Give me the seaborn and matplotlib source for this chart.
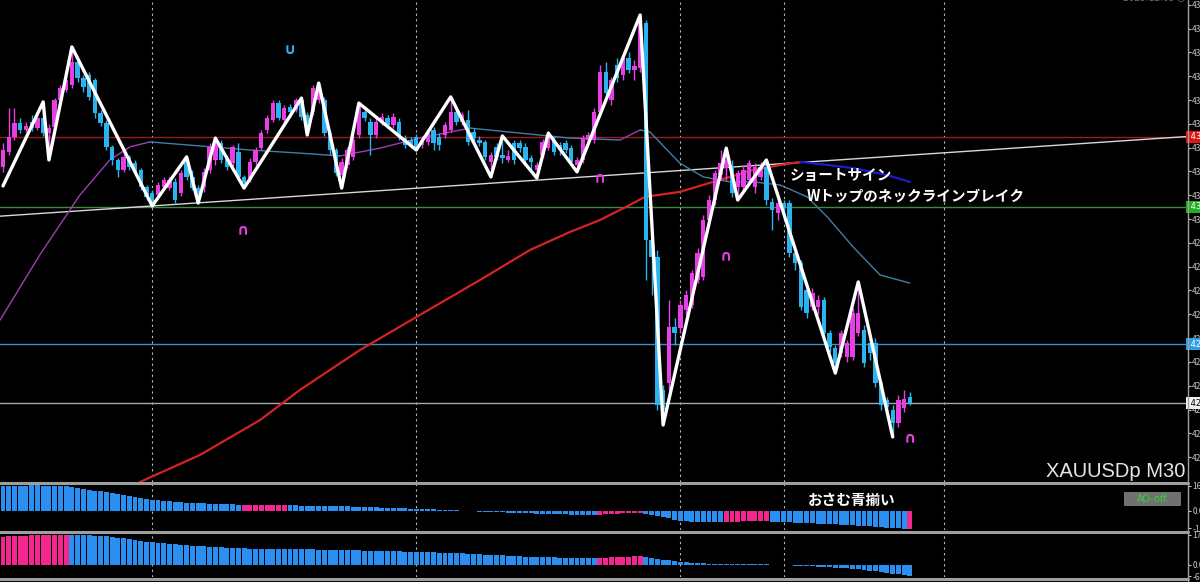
import numpy as np
import pandas as pd
import matplotlib
matplotlib.use("Agg")
import matplotlib.pyplot as plt
import matplotlib.transforms as mtransforms
from matplotlib.patches import Rectangle
from matplotlib.lines import Line2D
import seaborn as sns

# ---------------- data (XAUUSDp M30) ----------------
opens = [4321.9, 4328.2, 4334.5, 4340.3, 4337.4, 4340.8, 4338.2, 4342.4, 4336.1, 4338.7,
         4350.0, 4354.2, 4356.3, 4366.0, 4359.2, 4360.5, 4358.4, 4344.5, 4340.3, 4330.3,
         4324.8, 4320.6, 4326.1, 4323.5, 4320.6, 4313.5, 4310.9, 4310.1, 4313.5, 4313.0,
         4315.6, 4310.9, 4324.8, 4317.7, 4313.0, 4313.5, 4320.6, 4324.8, 4331.9, 4325.6,
         4323.5, 4328.2, 4317.7, 4316.4, 4324.0, 4329.8, 4337.4, 4341.6, 4348.7, 4341.6,
         4347.1, 4345.8, 4350.0, 4343.7, 4345.0, 4350.0, 4350.0, 4336.1, 4329.0, 4318.5,
         4322.7, 4326.1, 4335.3, 4345.0, 4340.8, 4335.3, 4340.8, 4342.4, 4339.5, 4340.8,
         4334.0, 4333.2, 4334.5, 4331.1, 4332.4, 4337.4, 4334.5, 4335.3, 4337.4, 4345.0,
         4340.8, 4341.6, 4336.6, 4333.2, 4332.4, 4324.0, 4330.3, 4326.9, 4324.8, 4331.9,
         4331.9, 4330.3, 4325.6, 4320.6, 4326.9, 4329.8, 4333.2, 4331.1, 4331.9, 4329.8,
         4322.7, 4324.8, 4333.2, 4333.2, 4345.0, 4361.8, 4350.0, 4364.7, 4360.5, 4367.6,
         4362.6, 4363.4, 4382.3, 4291.2, 4284.1, 4228.2, 4231.1, 4254.7, 4254.2, 4261.8,
         4263.9, 4274.4, 4275.7, 4299.6, 4308.0, 4318.5, 4321.4, 4321.9, 4313.5, 4313.5,
         4316.4, 4313.5, 4317.7, 4321.9, 4307.2, 4302.5, 4306.7, 4306.7, 4285.7, 4281.5,
         4270.2, 4263.1, 4263.1, 4266.0, 4252.1, 4245.8, 4243.7, 4242.1, 4242.1, 4252.1,
         4253.4, 4247.9, 4247.9, 4231.1, 4224.0, 4219.8, 4214.3, 4220.6, 4225.3]
closes = [4329.0, 4334.5, 4340.3, 4337.4, 4339.1, 4338.2, 4342.4, 4336.1, 4338.2, 4350.0,
          4355.0, 4358.4, 4366.0, 4359.2, 4355.5, 4351.3, 4344.5, 4340.3, 4330.3, 4324.8,
          4320.6, 4326.1, 4321.9, 4319.8, 4313.5, 4309.3, 4306.7, 4314.3, 4316.4, 4316.4,
          4308.0, 4319.3, 4317.7, 4313.0, 4310.1, 4319.8, 4330.3, 4332.4, 4324.8, 4321.9,
          4330.3, 4317.7, 4315.1, 4324.0, 4329.0, 4336.1, 4342.4, 4348.7, 4342.4, 4346.6,
          4345.0, 4350.0, 4342.9, 4340.8, 4355.0, 4356.3, 4336.1, 4329.0, 4319.3, 4324.0,
          4329.0, 4333.2, 4347.9, 4342.4, 4335.3, 4340.8, 4342.9, 4339.5, 4342.9, 4335.3,
          4331.1, 4331.1, 4329.8, 4333.2, 4336.1, 4331.9, 4331.1, 4339.5, 4345.0, 4340.8,
          4343.7, 4332.4, 4334.0, 4331.9, 4326.1, 4326.9, 4326.1, 4325.6, 4326.5, 4324.8,
          4329.8, 4324.8, 4324.0, 4322.7, 4332.4, 4334.5, 4328.2, 4329.0, 4329.0, 4324.0,
          4324.8, 4334.0, 4335.3, 4345.0, 4361.8, 4352.9, 4358.4, 4359.2, 4367.6, 4362.6,
          4364.3, 4383.6, 4291.2, 4284.1, 4221.9, 4219.8, 4254.7, 4252.1, 4263.9, 4268.1,
          4277.3, 4285.7, 4299.6, 4308.0, 4319.3, 4323.5, 4324.8, 4310.9, 4319.3, 4320.6,
          4323.5, 4321.9, 4321.9, 4308.0, 4303.8, 4306.7, 4305.1, 4285.7, 4281.5, 4263.1,
          4260.5, 4268.9, 4266.0, 4252.1, 4246.3, 4239.5, 4252.1, 4248.0, 4260.5, 4260.5,
          4239.5, 4243.7, 4231.1, 4221.9, 4221.1, 4214.3, 4224.0, 4224.3, 4222.7]
highs = [4331.9, 4346.6, 4346.6, 4342.4, 4340.8, 4343.7, 4345.0, 4349.2, 4339.9, 4350.8,
         4356.3, 4359.7, 4372.3, 4366.8, 4360.5, 4361.8, 4359.2, 4345.8, 4341.6, 4331.1,
         4325.6, 4328.2, 4326.9, 4324.8, 4321.4, 4314.3, 4312.2, 4315.6, 4317.7, 4317.7,
         4317.2, 4320.6, 4326.1, 4320.6, 4314.3, 4321.4, 4331.9, 4334.0, 4333.2, 4326.9,
         4331.1, 4331.9, 4318.5, 4325.6, 4330.3, 4337.4, 4343.7, 4350.0, 4350.0, 4347.9,
         4348.3, 4350.8, 4350.8, 4345.0, 4356.3, 4357.1, 4351.3, 4337.4, 4329.8, 4325.6,
         4330.3, 4334.9, 4348.7, 4346.6, 4342.4, 4342.4, 4344.5, 4343.7, 4344.5, 4342.4,
         4335.3, 4334.5, 4335.7, 4334.9, 4337.4, 4338.7, 4336.1, 4340.8, 4351.3, 4346.6,
         4345.0, 4345.8, 4338.2, 4334.9, 4333.2, 4328.2, 4331.9, 4334.9, 4329.0, 4333.2,
         4333.2, 4331.9, 4326.9, 4324.0, 4333.6, 4336.1, 4334.9, 4332.4, 4333.2, 4331.1,
         4326.1, 4335.3, 4336.6, 4346.6, 4364.7, 4366.0, 4359.7, 4367.6, 4368.9, 4370.2,
         4366.8, 4385.7, 4383.6, 4293.3, 4287.0, 4230.3, 4266.0, 4258.4, 4266.0, 4270.2,
         4278.6, 4287.8, 4301.7, 4310.1, 4320.6, 4329.0, 4329.8, 4324.8, 4320.6, 4322.7,
         4324.8, 4323.5, 4324.0, 4324.8, 4308.8, 4308.0, 4308.0, 4308.0, 4287.0, 4282.8,
         4272.3, 4271.0, 4268.1, 4267.3, 4253.4, 4247.1, 4253.4, 4249.2, 4262.6, 4273.6,
         4255.5, 4250.0, 4250.0, 4232.4, 4225.3, 4221.9, 4226.1, 4228.2, 4227.4]
lows = [4319.8, 4326.9, 4333.2, 4336.1, 4336.6, 4337.0, 4337.4, 4334.9, 4324.8, 4337.4,
        4348.7, 4353.4, 4355.0, 4357.6, 4353.4, 4350.0, 4342.4, 4339.1, 4329.0, 4322.7,
        4317.7, 4319.8, 4320.6, 4318.5, 4312.2, 4308.0, 4305.5, 4309.3, 4312.2, 4312.2,
        4306.7, 4309.7, 4316.4, 4312.2, 4306.7, 4311.4, 4319.3, 4322.7, 4323.5, 4320.6,
        4322.3, 4316.4, 4313.0, 4315.6, 4322.7, 4329.0, 4336.1, 4340.8, 4341.6, 4340.3,
        4343.7, 4345.0, 4341.6, 4335.3, 4343.7, 4348.7, 4334.9, 4326.9, 4318.1, 4313.0,
        4321.4, 4324.8, 4334.0, 4341.2, 4326.9, 4334.0, 4339.5, 4338.2, 4338.2, 4333.2,
        4329.8, 4329.8, 4329.0, 4329.8, 4331.1, 4329.0, 4329.0, 4334.0, 4336.6, 4339.5,
        4339.5, 4331.1, 4332.4, 4330.7, 4324.8, 4317.7, 4324.8, 4323.5, 4324.0, 4323.1,
        4328.2, 4322.7, 4320.6, 4317.2, 4325.6, 4329.0, 4326.9, 4326.9, 4327.7, 4322.7,
        4319.8, 4323.5, 4331.9, 4331.9, 4343.7, 4351.3, 4347.9, 4357.6, 4358.4, 4361.3,
        4358.4, 4361.8, 4274.4, 4268.1, 4219.8, 4213.5, 4228.2, 4247.1, 4252.1, 4259.7,
        4262.6, 4273.1, 4274.4, 4297.5, 4305.9, 4316.4, 4316.4, 4309.3, 4308.0, 4312.2,
        4314.3, 4310.9, 4316.4, 4305.9, 4295.4, 4299.6, 4301.7, 4284.1, 4278.6, 4261.8,
        4258.4, 4261.8, 4260.0, 4250.5, 4244.2, 4235.3, 4242.1, 4240.0, 4240.8, 4250.9,
        4237.9, 4240.8, 4229.5, 4219.8, 4218.9, 4208.5, 4212.7, 4218.9, 4221.9]

# zigzag pivots (bar index, price)
zz_bars = [0, 7, 8, 12, 26, 32, 34, 37, 42, 52, 53, 55, 59, 62, 72, 78, 85, 87, 93, 95,
           100, 111, 115, 126, 128, 133, 145, 149, 155]
zz_prices = [4313.9, 4349.2, 4324.8, 4372.3, 4305.5, 4326.1, 4306.7, 4334.0, 4313.0, 4350.8,
             4335.3, 4357.1, 4313.0, 4348.7, 4329.0, 4351.3, 4317.7, 4334.9, 4317.2, 4336.1,
             4319.8, 4385.7, 4213.5, 4329.8, 4308.0, 4324.8, 4235.3, 4273.6, 4208.5]

# slow moving average (red rising / blue falling)
ma_slow_bars = [23.9, 34.3, 44.8, 51.7, 62.2, 72.6, 83.1, 91.8, 98.8, 104.0, 109.2, 111.8,
                117.9, 123.7, 130.7, 135.4, 138.9, 142.3, 148.1, 154.0, 158.0]
ma_slow_prices = [4189.6, 4200.9, 4215.6, 4228.2, 4245.0, 4259.7, 4274.4, 4287.0, 4294.6,
                  4299.6, 4305.9, 4309.3, 4311.4, 4315.6, 4320.6, 4322.7, 4324.0, 4323.1,
                  4321.4, 4318.5, 4315.6]

# middle moving average (purple rising / steel blue falling)
ma_mid_bars = [-0.5, 6.4, 13.4, 18.6, 22.1, 25.6, 34.3, 43.0, 51.7, 58.7, 65.7, 72.6, 81.4,
               90.1, 98.8, 107.5, 111.0, 112.7, 117.9, 122.0, 126.7, 130.7, 135.4, 140.1,
               143.6, 148.1, 152.8, 158.0]
ma_mid_prices = [4257.6, 4284.9, 4310.1, 4324.8, 4330.3, 4332.4, 4330.7, 4329.0, 4327.7,
                 4326.5, 4329.8, 4334.0, 4338.2, 4336.1, 4334.0, 4333.2, 4337.4, 4336.6,
                 4323.5, 4317.7, 4315.6, 4315.6, 4314.3, 4309.3, 4300.9, 4288.3, 4276.5,
                 4273.1]

# horizontal levels
level_prices = [4334.5, 4305.1, 4247.5, 4222.7]
level_colors = ["#9a1c1c", "#3f8a3f", "#3a8fc4", "#a8a8a8"]
label_faces = ["#e01414", "#22b022", "#2f9fe6", "#f0f0f0"]
label_texts = ["white", "white", "white", "black"]

# neckline trend line anchors
trend_bars = [26, 128]
trend_prices = [4305.5, 4322.0]

# period separators
sep_bars = [26, 72, 118, 136, 164]

# arrow signals
arrow_bars = [50, 41.8, 104, 126, 158]
arrow_prices = [4371.0, 4295.4, 4317.2, 4284.5, 4208.0]
arrow_kind = ["buy", "sell", "sell", "sell", "sell"]

# AO panel 1
ao1 = [159.3, 162.5, 162.5, 162.5, 162.5, 163.8, 163.8, 162.5, 162.5, 162.5, 162.5, 161.2,
       152.8, 146.3, 139.8, 133.3, 128.7, 124.8, 120.3, 113.8, 107.3, 98.8, 92.3, 85.8,
       80.6, 76.7, 71.5, 67.0, 63.1, 59.8, 56.6, 53.3, 50.7, 48.8, 47.5, 46.2, 44.9, 43.6,
       42.3, 41.0, 39.7, 38.4,
       35.8, 35.8, 36.4, 36.4, 37.1, 37.1, 37.7, 37.7,
       33.8, 33.2, 32.5, 31.9, 31.2, 31.2, 30.6, 29.9, 29.3, 28.6, 28.0,
       26.0, 24.7, 23.4, 22.1, 20.8, 19.5,
       18.2, 16.9, 15.6, 14.3, 13.0, 11.7,
       9.8, 8.5, 7.2, 5.9, 4.6, 3.3, 2.0,
       -2.6, -3.9, -5.2, -6.5,
       -8.5, -9.8, -11.1, -12.4, -13.7, -15.0, -16.3, -17.6, -18.9, -19.5,
       -20.8, -22.1, -22.8, -24.1, -24.7, -26.0, -26.7, -27.3, -28.0, -28.6,
       -26.0, -23.4, -21.5, -19.5, -18.2, -16.9, -16.3, -15.6,
       -19.5, -26.0, -33.8, -42.3, -50.7, -58.5, -65.0,
       -68.3, -71.5, -71.5, -72.8, -72.8, -73.5, -73.5,
       -72.8, -72.2, -71.5, -70.9, -70.2, -70.2, -69.6, -69.6,
       -71.5, -72.8, -74.8, -76.1, -78.0, -79.3, -81.3, -83.2, -84.5, -86.5, -88.4, -90.4,
       -92.3, -94.3, -96.2, -98.8, -100.8, -103.4, -105.3, -107.9, -110.5, -113.1, -115.7,
       -118.3,
       -117.0]
ao1_pink_ranges = [(42, 49), (104, 111), (126, 133), (158, 158)]

# AO panel 2
ao2 = [161.2, 164.1, 165.8, 167.6, 169.9, 171.7, 172.9, 172.9, 172.9, 172.9, 172.9, 172.9,
       172.9, 172.9, 171.7, 170.5, 168.8, 166.4, 164.1, 160.6, 157.0,
       152.4, 147.7, 143.0, 138.3, 134.2, 130.7, 127.2, 123.6, 120.7, 117.8,
       114.9, 112.5, 110.2, 107.8, 105.5, 103.7, 102.0, 100.2, 98.4, 96.7,
       95.5, 94.3, 93.2, 92.6, 92.0, 91.4, 90.8, 90.8, 90.8, 90.2, 90.2, 89.7, 89.7,
       88.5, 87.9, 87.3, 86.7, 85.6, 85.0, 84.4, 83.2, 82.6, 82.0, 80.9, 80.3, 79.1,
       78.5, 77.4, 76.8, 75.6, 75.0, 73.8, 73.3, 72.1, 71.5, 70.3, 69.7, 68.6, 67.4,
       65.6, 63.9, 62.1, 60.4, 58.6, 56.8, 55.1, 53.3, 51.6, 49.8, 48.1, 46.3, 45.1, 44.0,
       42.8, 42.2, 41.6, 41.0, 40.4, 39.8, 39.3, 38.7, 38.1, 38.1,
       39.8, 41.0, 42.8, 44.0, 45.1, 46.3, 46.9, 46.9,
       44.0, 39.3, 34.6, 29.3, 24.6, 20.5, 17.0, 13.5, 10.5, 8.2, 6.4, 4.7, 3.5,
       2.9, 2.3, 1.8, 1.8, 1.2, 1.2, 0.6, 0.6, 0.3, 0.0, -0.6,
       -2.3, -4.1, -5.9, -7.6, -9.4, -11.1, -12.9, -14.7, -16.4,
       -18.2, -20.5, -22.9, -25.8, -28.7, -32.2, -35.7, -39.8, -44.0, -48.6, -53.3, -58.0,
       -62.1,
       -64.5]
ao2_pink_ranges = [(0, 11), (104, 111)]

# ---------------- style ----------------
BULL = "#e63fe6"
BEAR = "#2bb3ef"
PINK = "#f2268f"
BLUE = "#2a8ff0"

sns.set_theme(style="dark", rc={"axes.facecolor": "black", "figure.facecolor": "black",
                                "axes.edgecolor": "black", "grid.color": "black"})
plt.rcParams['font.family'] = ['Noto Sans CJK JP', 'DejaVu Sans']

W, H = 1200, 582
fig = plt.figure(figsize=(12, 5.82), dpi=100)
fig.patch.set_facecolor("black")


def ax_px(x0, y0, x1, y1):
    a = fig.add_axes([x0 / W, 1 - y1 / H, (x1 - x0) / W, (y1 - y0) / H])
    a.set_facecolor("black")
    for s in a.spines.values():
        s.set_visible(False)
    a.grid(False)
    return a


ax = ax_px(0, 0, 1188, 482)
ax1 = ax_px(0, 484, 1188, 530)
ax2 = ax_px(0, 533, 1188, 577)

n = len(closes)
bars = np.arange(n)
XL = (-3 / 5.74, (1188 - 3) / 5.74)

# ---- main panel ----
o = np.array(opens); c = np.array(closes)
hi = np.maximum(np.array(highs), np.maximum(o, c))
lo = np.minimum(np.array(lows), np.minimum(o, c))
up = c >= o
cols = np.where(up, BULL, BEAR)

for x in sep_bars:
    for a in (ax, ax1, ax2):
        a.axvline(x, color="#bdbdbd", lw=0.8, ls=(0, (2, 3)), zorder=1)

for p, col in zip(level_prices, level_colors):
    ax.axhline(p, color=col, lw=1.0, zorder=1)

ax.axline((trend_bars[0], trend_prices[0]), (trend_bars[1], trend_prices[1]),
          color="#d8d8d8", lw=1.0, zorder=2)


def draw_ma(bx, py, c_up, c_dn, lw):
    bx = list(bx); py = list(py)
    runs = []
    cur = [0]
    cur_up = py[1] > py[0]
    for i in range(1, len(bx)):
        seg_up = py[i] > py[i - 1]
        if seg_up != cur_up:
            runs.append((cur, cur_up))
            cur = [i - 1]
            cur_up = seg_up
        cur.append(i)
    runs.append((cur, cur_up))
    for idx, is_up in runs:
        sns.lineplot(x=[bx[k] for k in idx], y=[py[k] for k in idx], ax=ax,
                     color=c_up if is_up else c_dn, lw=lw, sort=False,
                     estimator=None, zorder=3)


draw_ma(ma_mid_bars, ma_mid_prices, "#a23cb4", "#3f7fa6", 1.0)
draw_ma(ma_slow_bars, ma_slow_prices, "#d62222", "#1c1cc8", 1.6)

ax.vlines(bars, lo, hi, colors=cols, lw=1.0, zorder=4)
body = np.maximum(np.abs(c - o), 0.35)
ax.bar(bars, body, bottom=np.minimum(o, c), width=0.76, color=cols, linewidth=0, zorder=5)

sns.lineplot(x=zz_bars, y=zz_prices, ax=ax, color="white", lw=2.4, sort=False,
             estimator=None, zorder=6)

for bx, py, k in zip(arrow_bars, arrow_prices, arrow_kind):
    ax.text(bx, py, "∪" if k == "buy" else "∩", color=BEAR if k == "buy" else BULL,
            fontsize=11, fontweight="bold", ha="center", va="center",
            family="DejaVu Sans", zorder=7)

ax.text(137.1, 4318.5, "ショートサイン", color="white", fontsize=10.5,
        fontweight="bold", ha="left", va="center", zorder=8)
ax.text(140.1, 4309.7, "Wトップのネックラインブレイク", color="white", fontsize=10.5,
        fontweight="bold", ha="left", va="center", zorder=8)
ax.text(1185 / 1188, 5 / 482, "XAUUSDp M30", transform=ax.transAxes, ha="right",
        va="baseline", fontsize=14.5, color="#e6e6e6", family="Liberation Sans")

ax.set_xlim(*XL)
ax.set_ylim(4189.56, 4392.0)
main_ticks = np.arange(4200, 4391, 10)
ax.set_yticks(main_ticks)
ax.set_yticklabels([f"{v:.2f}" for v in main_ticks])
ax.set_xticks([])
ax.yaxis.tick_right()
ax.tick_params(axis="y", colors="#c8c8c8", labelsize=6, length=2, width=0.8, pad=1,
               direction="out", right=True, left=False)
ax.set_xlabel(""); ax.set_ylabel("")

blend = mtransforms.blended_transform_factory(ax.transAxes, ax.transData)
for p, fc, tc in zip(level_prices, label_faces, label_texts):
    ax.text(1.0, p, f" {p:.2f}", transform=blend, ha="left", va="center", fontsize=6,
            color=tc, family="DejaVu Sans", clip_on=False, zorder=10,
            bbox=dict(boxstyle="square,pad=0.2", fc=fc, ec="none"))

# ---- AO panels ----


def states(ranges, count):
    s = ["down"] * count
    for a, b in ranges:
        for i in range(a, b + 1):
            s[i] = "up"
    return s


for a, vals, rng, ylim, ticks, tlabels in [
        (ax1, ao1, ao1_pink_ranges, (-126.75, 172.25), [162.5, 0.0, -115.0],
         ["162.53", "0.00", "-115.04"]),
        (ax2, ao2, ao2_pink_ranges, (-73.25, 184.6), [173.0, 0.0, -68.0],
         ["173.12", "0.00", "-68.45"])]:
    df = pd.DataFrame({"bar": bars, "ao": vals, "state": states(rng, n)})
    sns.barplot(data=df, x="bar", y="ao", hue="state", palette={"up": PINK, "down": BLUE},
                native_scale=True, dodge=False, width=0.86, legend=False, ax=a,
                saturation=1, errorbar=None, linewidth=0)
    a.set_xlim(*XL)
    a.set_ylim(*ylim)
    a.set_yticks(ticks)
    a.set_yticklabels(tlabels)
    a.set_xticks([])
    a.yaxis.tick_right()
    a.tick_params(axis="y", colors="#c8c8c8", labelsize=6, length=2, width=0.8, pad=1,
                  right=True, left=False)
    a.set_xlabel(""); a.set_ylabel("")

ax1.text(140.2, 68, "おさむ青揃い", color="white", fontsize=10.5, fontweight="bold",
         ha="left", va="center", zorder=8)

# AO-off button
fig.add_artist(Rectangle((1124 / W, 1 - 505 / H), 56 / W, 13 / H, transform=fig.transFigure,
                         fc="#707070", ec="#8c8c8c", lw=0.5))
fig.text(1152 / W, 1 - 498.5 / H, "AO-off", color="#3ad23a", fontsize=7, ha="center",
         va="center", family="DejaVu Sans")

# faint clock text at the top edge
fig.text(1185 / W, 1 + 1 / H, "2025.12.05 ◎", color="#707070", fontsize=6.5, ha="right",
         va="center", family="DejaVu Sans")

# panel separators and price-scale border
for yy in [482.5, 531.5, 578.5]:
    fig.add_artist(Line2D([0, 1188 / W], [1 - yy / H] * 2, color="#9e9e9e", lw=2.2))
fig.add_artist(Line2D([1188 / W] * 2, [0, 1], color="#a0a0a0", lw=1.0))

fig.savefig("out.png", dpi=100, facecolor="black")
